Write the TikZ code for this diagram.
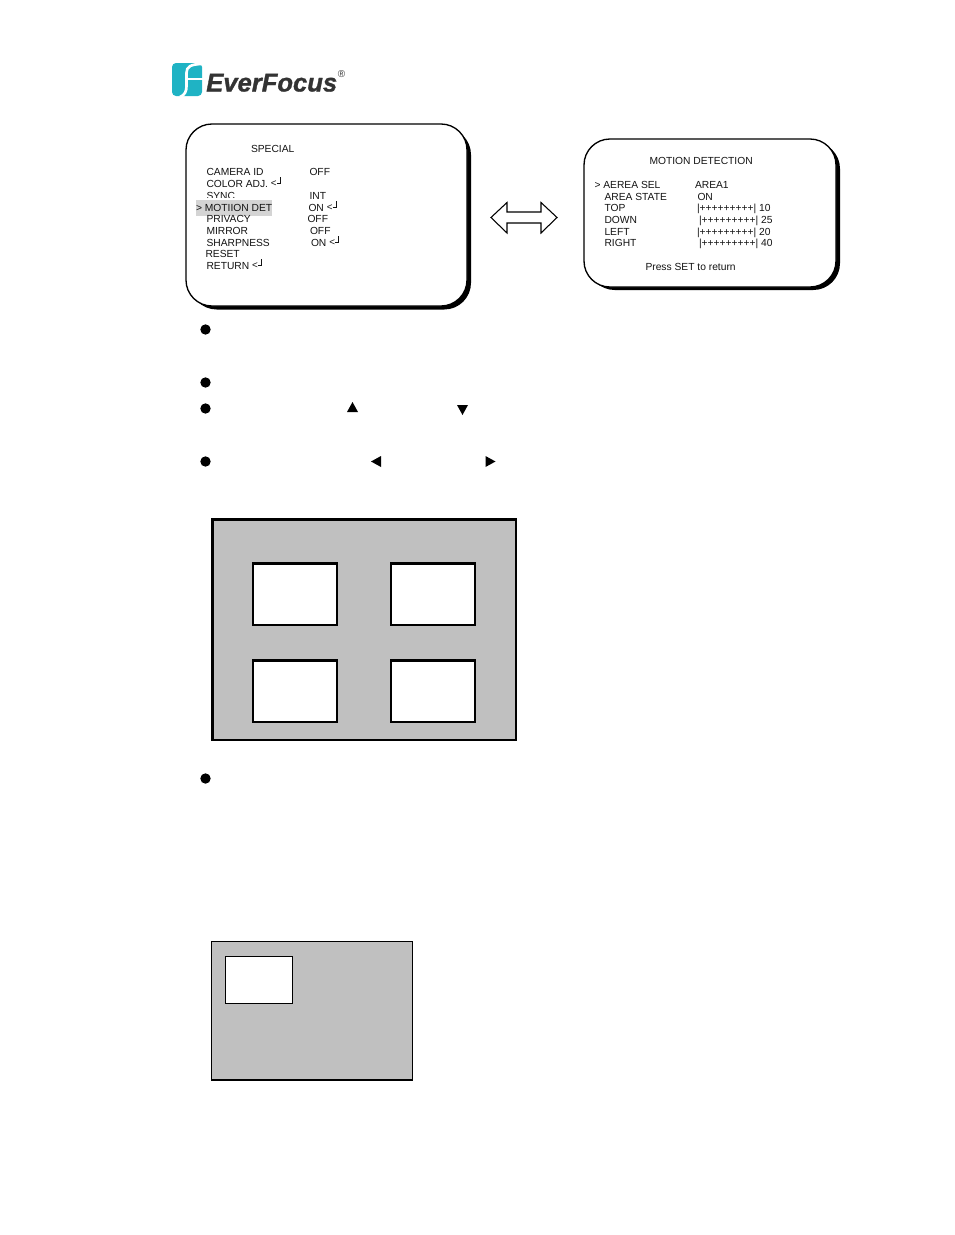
\documentclass[tikz,border=0pt]{standalone}
\usepackage{fontspec}
\setmainfont{Liberation Sans}
\newfontfamily\logofont{Liberation Sans}[BoldItalicFeatures={FakeBold=1.2}]
\definecolor{boxgray}{HTML}{C0C0C0}
\definecolor{hilite}{HTML}{D4D4D4}
\definecolor{teal1}{HTML}{1FB3C4}
\definecolor{logotext}{HTML}{333333}
\newcommand{\retk}{{\fontsize{7.4pt}{7pt}\selectfont\raisebox{.1pt}{<}}\kern.1pt\rule[2.6pt]{2.2pt}{.45pt}\rule[2.6pt]{.45pt}{4.6pt}}
\tikzset{
  x=.75pt,y=-.75pt,
  t/.style={anchor=base west,inner sep=0pt,outer sep=0pt,font=\fontsize{7.7pt}{9pt}\selectfont,text=black!92},
  osd/.style={rounded corners=19.5pt,draw=black,line width=1pt,fill=white},
  osdshadow/.style={rounded corners=20pt,fill=black},
  panel/.style={draw=black,fill=boxgray},
  win/.style={draw=black,fill=white},
  bul/.style={circle,fill=black,inner sep=0pt,minimum size=7.8pt},
  tri/.style={fill=black}
}
\begin{document}
\begin{tikzpicture}
\useasboundingbox (0,0) rectangle (954,1235);
% logo
\fill[teal1,rounded corners=3pt] (172,63) rectangle (202,96);
\draw[white,line width=2pt] (180,97) .. controls (185,95) and (186.5,91) .. (186.5,86) -- (186.5,73) .. controls (186.5,67) and (190,64) .. (203,64);
\draw[white,line width=1.6pt] (186.5,79) -- (203,79);
\node[anchor=base west,inner sep=0pt,text=logotext,font=\fontsize{19.2pt}{20pt}\logofont\bfseries\itshape] (logo) at (206,91.5) {EverFocus};
\node[anchor=center,inner sep=0pt,text=logotext,font=\fontsize{7.5pt}{8pt}\selectfont] (reg) at (341.5,74) {®};
% left OSD
\fill[osdshadow] (190,128) rectangle (471,309.5);
\draw[osd] (186,124) rectangle (467,306);
\node[t] (s0) at (251,152) {SPECIAL};
\node[t] (s1) at (206.5,175) {CAMERA ID};
\node[t] (s1v) at (309.5,175) {OFF};
\node[t] (s2) at (206.5,187) {COLOR ADJ. \retk};
\node[t] (s3) at (206.5,199) {SYNC};
\node[t] (s3v) at (309.5,199) {INT};
\fill[white] (196,198) rectangle (272,200.5);
\fill[hilite] (196,200) rectangle (272,216);
\node[t] (s4) at (196,211) {> MOTIION DET};
\node[t] (s4v) at (308.5,211) {ON \retk};
\node[t] (s5) at (206.5,222) {PRIVACY};
\node[t] (s5v) at (307.5,222) {OFF};
\node[t] (s6) at (206.5,234) {MIRROR};
\node[t] (s6v) at (310,234) {OFF};
\node[t] (s7) at (206.5,246) {SHARPNESS};
\node[t] (s7v) at (311,246) {ON \retk};
\node[t] (s8) at (205.5,257) {RESET};
\node[t] (s9) at (206.5,269) {RETURN \retk};
% double arrow
\draw[line width=.8pt,fill=white] (491,217.5) -- (507,202.5) -- (507,212) -- (541,212) -- (541,202.5) -- (557,217.5) -- (541,233) -- (541,223) -- (507,223) -- (507,233) -- cycle;
% right OSD
\fill[osdshadow] (588,142) rectangle (840,290);
\draw[osd] (584,139) rectangle (836,287);
\node[t] (m0) at (649.5,164) {MOTION DETECTION};
\node[t] (m1) at (594.5,188) {> AEREA SEL};
\node[t] (m1v) at (695,188) {AREA1};
\node[t] (m2) at (604.5,200) {AREA STATE};
\node[t] (m2v) at (697.5,200) {ON};
\node[t] (m3) at (604.5,211) {TOP};
\node[t] (m3v) at (697,211) {|+++++++++| 10};
\node[t] (m4) at (604.5,223) {DOWN};
\node[t] (m4v) at (699,223) {|+++++++++| 25};
\node[t] (m5) at (604.5,235) {LEFT};
\node[t] (m5v) at (697,235) {|+++++++++| 20};
\node[t] (m6) at (604.5,246) {RIGHT};
\node[t] (m6v) at (699,246) {|+++++++++| 40};
\node[t] (m7) at (645.5,270) {Press SET to return};
% bullets
\node[bul] (b1) at (205.5,329.5) {};
\node[bul] (b2) at (205.5,382.5) {};
\node[bul] (b3) at (205.5,408.5) {};
\node[bul] (b4) at (205.5,461.5) {};
\node[bul] (b5) at (205.5,778.5) {};
% triangles
\fill[tri] (347,412) -- (352.5,402) -- (358,412) -- cycle;
\fill[tri] (457,405) -- (468,405) -- (462.5,415) -- cycle;
\fill[tri] (371,461.5) -- (381,456) -- (381,467) -- cycle;
\fill[tri] (485.5,456) -- (495.5,461.5) -- (485.5,467) -- cycle;
% big panel
\draw[panel,line width=1.9pt] (212.5,519.5) rectangle (516,740);
\draw[win,line width=1.6pt] (253,563.5) rectangle (337,625);
\draw[win,line width=1.6pt] (391,563.5) rectangle (475,625);
\draw[win,line width=1.6pt] (253,660.5) rectangle (337,722);
\draw[win,line width=1.6pt] (391,660.5) rectangle (475,722);
% small panel
\draw[panel,line width=1pt] (211.5,941.5) rectangle (412.5,1080);
\draw[win,line width=.6pt] (225,956.5) rectangle (292.5,1003.5);
\end{tikzpicture}
\end{document}
